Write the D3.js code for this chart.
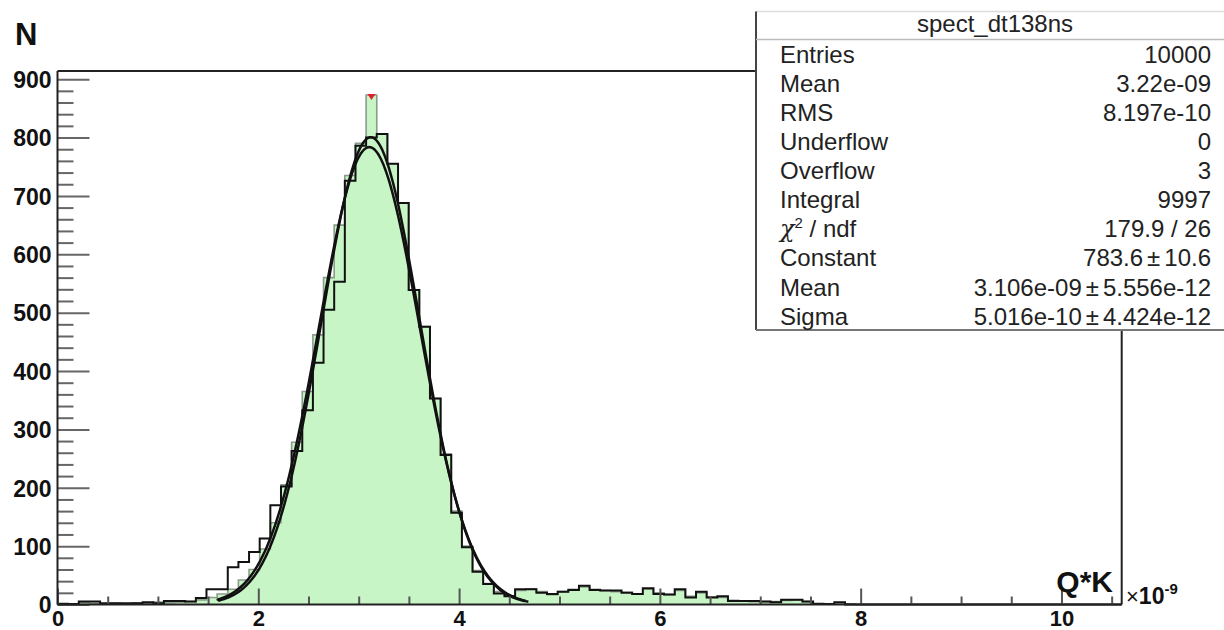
<!DOCTYPE html>
<html>
<head>
<meta charset="utf-8">
<script src="https://cdn.jsdelivr.net/npm/d3@7"></script>
<style>
  html, body { margin: 0; padding: 0; background: #fff; }
  svg { display: block; }
  text { font-family: "Liberation Sans", Arial, Helvetica, sans-serif; }
</style>
</head>
<body>
<svg id="chart" width="1224" height="630"></svg>
<script>
// Histogram binning (units of 1e-9)
const binCount = 100;
const xRange = [0, 10.6];
const yRange = [0, 914];

// Filled histogram (light green)
const greenCounts = [
  2, 1, 3, 2, 1, 2, 1, 3, 2, 4,
  3, 4, 5, 8, 12, 18, 26, 42, 60, 95,
  140, 205, 278, 365, 462, 560, 650, 735, 790, 873,
  806, 755, 688, 539, 476, 353, 258, 160, 100, 58,
  36, 22, 15, 24, 27, 22, 17, 22, 26, 30,
  26, 24, 22, 21, 18, 26, 20, 17, 24, 14,
  20, 13, 12, 7, 6, 5, 5, 5, 7, 8,
  5, 2, 1, 3, 1, 0, 0, 0, 0, 0,
  0, 0, 0, 0, 0, 0, 0, 0, 0, 0,
  0, 0, 0, 0, 0, 0, 0, 0, 0, 0
];

// Outline histogram (black)
const blackCounts = [
  1, 1, 5, 5, 2, 2, 2, 2, 4, 2,
  6, 6, 5, 11, 26, 26, 64, 73, 90, 113,
  170, 202, 263, 333, 414, 505, 553, 726, 786, 800,
  806, 755, 688, 539, 476, 353, 256, 157, 98, 56,
  35, 19, 14, 26, 26, 20, 18, 22, 25, 32,
  25, 24, 24, 20, 18, 28, 18, 17, 26, 12,
  22, 12, 14, 6, 6, 6, 5, 4, 8, 8,
  5, 1, 1, 4, 0, 0, 0, 0, 0, 0,
  0, 0, 0, 0, 0, 0, 0, 0, 0, 0,
  0, 0, 0, 0, 0, 0, 0, 0, 0, 0
];

// Gaussian fits: [constant, mean, sigma, from, to]
const fitStats = [783.6, 3.106, 0.5016, 1.585, 4.672];
const fitAlt   = [800.5, 3.120, 0.4900, 1.600, 4.690];

// Axis ticks
const yMajorTicks = [0, 100, 200, 300, 400, 500, 600, 700, 800, 900];
const yMinorStep = 20;
const xMajorTicks = [0, 2, 4, 6, 8, 10];
const xMinorStep = 0.5;

// Statistics box
const statsTitle = "spect_dt138ns";
const statLabels = ["Entries", "Mean", "RMS", "Underflow", "Overflow", "Integral", "CHI2", "Constant", "Mean", "Sigma"];
const statValues = ["10000", "3.22e-09", "8.197e-10", "0", "3", "9997", "179.9 / 26",
                    ["783.6", "10.6"], ["3.106e-09", "5.556e-12"], ["5.016e-10", "4.424e-12"]];

// ---------------------------------------------------------------
const svg = d3.select("#chart");
const frame = { left: 57.5, right: 1121.7, top: 71, bottom: 604.5 };
const boxG = { x: 756, y: 11.5, w: 480, h: 318.5 };

const x = d3.scaleLinear().domain(xRange).range([frame.left, frame.right]);
const y = d3.scaleLinear().domain(yRange).range([frame.bottom, frame.top]);

const binWidth = (xRange[1] - xRange[0]) / binCount;
function stepPoints(counts) {
  const pts = counts.map((c, i) => [xRange[0] + i * binWidth, c]);
  pts.push([xRange[1], counts[counts.length - 1]]);
  return pts;
}

const plot = svg.append("g");

// Green filled histogram
const area = d3.area()
  .x(d => x(d[0])).y0(y(0)).y1(d => y(d[1]))
  .curve(d3.curveStepAfter);
plot.append("path")
  .datum(stepPoints(greenCounts))
  .attr("d", area)
  .attr("fill", "#c8f5c6")
  .attr("stroke", "none");

const stepLine = d3.line()
  .x(d => x(d[0])).y(d => y(d[1]))
  .curve(d3.curveStepAfter);
plot.append("path")
  .datum(stepPoints(greenCounts))
  .attr("d", stepLine)
  .attr("fill", "none")
  .attr("stroke", "#8a9c8a")
  .attr("stroke-width", 1.6);

// Black outline histogram
plot.append("path")
  .datum(stepPoints(blackCounts))
  .attr("d", stepLine)
  .attr("fill", "none")
  .attr("stroke", "#111")
  .attr("stroke-width", 2);

// Maximum marker
const maxIdx = d3.maxIndex(greenCounts);
const mx = x(xRange[0] + (maxIdx + 0.5) * binWidth), my = y(greenCounts[maxIdx]);
plot.append("path")
  .attr("d", `M${mx - 4},${my - 1}L${mx + 4},${my - 1}L${mx},${my + 5}Z`)
  .attr("fill", "#e0202a");

// Fit curves
function gaussPoints(p) {
  const [c, m, s, a, b] = p;
  return d3.range(a, b + 1e-9, 0.01).map(v => [v, c * Math.exp(-0.5 * ((v - m) / s) ** 2)]);
}
const curveLine = d3.line().x(d => x(d[0])).y(d => y(d[1]));
plot.append("path").datum(gaussPoints(fitAlt)).attr("d", curveLine)
  .attr("fill", "none").attr("stroke", "#111").attr("stroke-width", 2.5);
plot.append("path").datum(gaussPoints(fitStats)).attr("d", curveLine)
  .attr("fill", "none").attr("stroke", "#111").attr("stroke-width", 2.5);

// Y axis ticks (inside the frame)
const yMinor = d3.range(0, yRange[1], yMinorStep).filter(v => v % 100 !== 0);
svg.append("g").attr("transform", `translate(${frame.left},0)`)
  .call(d3.axisRight(y).tickValues(yMinor).tickSize(16).tickFormat(""))
  .call(g => g.select(".domain").remove())
  .call(g => g.selectAll("line").attr("stroke", "#666").attr("stroke-width", 2));
svg.append("g").attr("transform", `translate(${frame.left},0)`)
  .call(d3.axisRight(y).tickValues(yMajorTicks).tickSize(32).tickFormat(""))
  .call(g => g.select(".domain").remove())
  .call(g => g.selectAll("line").attr("stroke", "#666").attr("stroke-width", 2));

// Y axis labels
svg.append("g").attr("transform", `translate(${frame.left},0)`)
  .call(d3.axisLeft(y).tickValues(yMajorTicks).tickSize(0).tickPadding(6).tickFormat(d3.format("d")))
  .call(g => g.select(".domain").remove())
  .call(g => g.selectAll("text")
    .attr("font-family", "'Liberation Sans', Arial, sans-serif")
    .attr("font-size", 23).attr("font-weight", "bold").attr("fill", "#111")
    .attr("dy", "0.36em"));

// X axis ticks (pointing up)
const xMinor = d3.range(0, xRange[1], xMinorStep).filter(v => v % 2 !== 0);
svg.append("g").attr("transform", `translate(0,${frame.bottom})`)
  .call(d3.axisTop(x).tickValues(xMinor).tickSize(8).tickFormat(""))
  .call(g => g.select(".domain").remove())
  .call(g => g.selectAll("line").attr("stroke", "#555").attr("stroke-width", 2));
svg.append("g").attr("transform", `translate(0,${frame.bottom})`)
  .call(d3.axisTop(x).tickValues(xMajorTicks).tickSize(16).tickFormat(""))
  .call(g => g.select(".domain").remove())
  .call(g => g.selectAll("line").attr("stroke", "#555").attr("stroke-width", 2));

// X axis labels
svg.append("g").attr("transform", `translate(0,${frame.bottom})`)
  .call(d3.axisBottom(x).tickValues(xMajorTicks).tickSize(0).tickPadding(6).tickFormat(d3.format("d")))
  .call(g => g.select(".domain").remove())
  .call(g => g.selectAll("text")
    .attr("font-family", "'Liberation Sans', Arial, sans-serif")
    .attr("font-size", 22).attr("font-weight", "bold").attr("fill", "#111"));

// Frame lines
const frameG = svg.append("g").attr("stroke", "#222").attr("stroke-width", 2).attr("fill", "none");
frameG.append("line").attr("x1", frame.left).attr("x2", frame.left).attr("y1", frame.top).attr("y2", frame.bottom);
frameG.append("line").attr("x1", frame.left).attr("x2", frame.right).attr("y1", frame.bottom).attr("y2", frame.bottom);
frameG.append("line").attr("x1", frame.left).attr("x2", boxG.x).attr("y1", frame.top).attr("y2", frame.top);
frameG.append("line").attr("x1", frame.right).attr("x2", frame.right).attr("y1", boxG.y + boxG.h).attr("y2", frame.bottom);

// Axis titles
svg.append("text").attr("x", 15).attr("y", 45)
  .attr("font-size", 31).attr("font-weight", "bold").attr("fill", "#111").text("N");
svg.append("text").attr("x", 1113).attr("y", 592).attr("text-anchor", "end")
  .attr("font-size", 30).attr("font-weight", "bold").attr("fill", "#111").text("Q*K");
const expo = svg.append("text").attr("x", 1126).attr("y", 603.5).attr("fill", "#111");
expo.append("tspan").attr("font-size", 22).text("×");
expo.append("tspan").attr("font-size", 23).attr("font-weight", "bold").text("10");
expo.append("tspan").attr("font-size", 15).attr("font-weight", "bold").attr("dy", -10).text("-9");

// Statistics box
const box = svg.append("g");
box.append("rect").attr("x", boxG.x).attr("y", boxG.y).attr("width", boxG.w).attr("height", boxG.h)
  .attr("fill", "#fff").attr("stroke", "none");
box.append("line").attr("x1", boxG.x).attr("x2", boxG.x + boxG.w).attr("y1", boxG.y).attr("y2", boxG.y)
  .attr("stroke", "#ddd").attr("stroke-width", 1.5);
box.append("line").attr("x1", boxG.x).attr("x2", boxG.x).attr("y1", boxG.y).attr("y2", boxG.y + boxG.h)
  .attr("stroke", "#444").attr("stroke-width", 2);
box.append("line").attr("x1", boxG.x).attr("x2", boxG.x + boxG.w).attr("y1", boxG.y + boxG.h).attr("y2", boxG.y + boxG.h)
  .attr("stroke", "#777").attr("stroke-width", 2);
box.append("line").attr("x1", boxG.x).attr("x2", boxG.x + boxG.w).attr("y1", 39.5).attr("y2", 39.5)
  .attr("stroke", "#bbb").attr("stroke-width", 1.5);

box.append("text").attr("x", 995).attr("y", 32).attr("text-anchor", "middle")
  .attr("font-size", 24).attr("fill", "#222").text(statsTitle);

const rowY = i => 62.7 + i * 29.1;
statLabels.forEach((lab, i) => {
  const t = box.append("text").attr("x", 780).attr("y", rowY(i)).attr("font-size", 24).attr("fill", "#222");
  if (lab === "CHI2") {
    t.append("tspan").attr("font-family", "'DejaVu Serif', serif").attr("font-style", "italic").text("χ");
    t.append("tspan").attr("font-size", 15).attr("dy", -9).text("2");
    t.append("tspan").attr("dy", 9).text(" / ndf");
  } else {
    t.text(lab);
  }
});
statValues.forEach((val, i) => {
  const t = box.append("text").attr("x", 1211).attr("y", rowY(i)).attr("text-anchor", "end")
    .attr("font-size", 24).attr("fill", "#222");
  if (Array.isArray(val)) {
    t.append("tspan").text(val[0]);
    t.append("tspan").attr("dx", 4).text("±");
    t.append("tspan").attr("dx", 4).text(val[1]);
  } else {
    t.text(val);
  }
});
</script>
</body>
</html>
